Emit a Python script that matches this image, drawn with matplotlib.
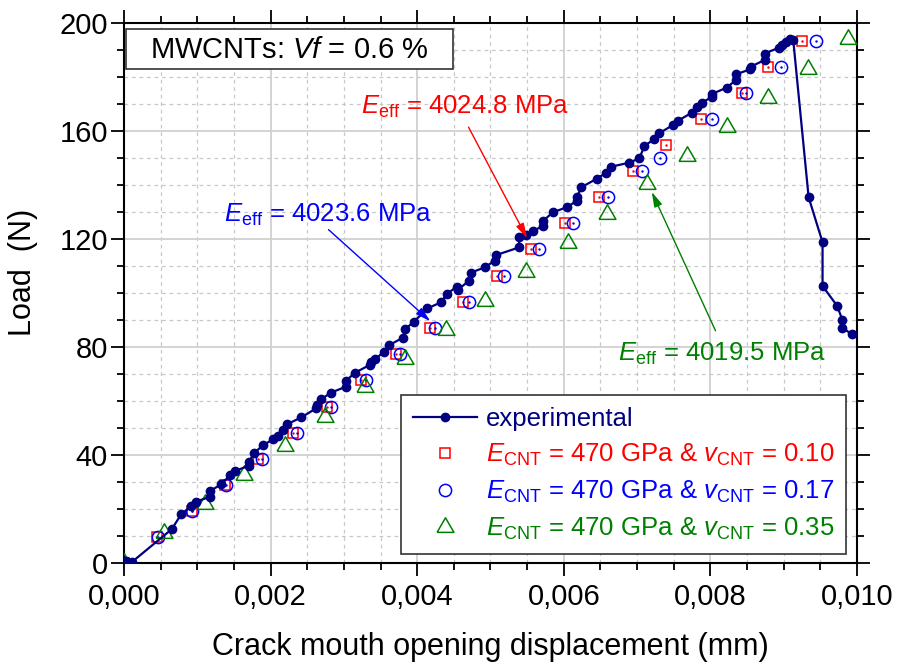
import matplotlib
matplotlib.use("Agg")
import matplotlib.pyplot as plt
from matplotlib.ticker import MultipleLocator, FuncFormatter
from matplotlib.patches import Rectangle
from matplotlib.lines import Line2D

plt.rcParams['font.family'] = ['Liberation Sans', 'DejaVu Sans']
plt.rcParams['mathtext.fontset'] = 'custom'
plt.rcParams['mathtext.rm'] = 'Liberation Sans'
plt.rcParams['mathtext.it'] = 'Liberation Sans:italic'
plt.rcParams['mathtext.bf'] = 'Liberation Sans:bold'

# ---------------- data ----------------
exp_x = [0.0, 0.00003, 0.00011, 0.00065, 0.00078, 0.00092, 0.00098, 0.00118, 0.00118,
         0.00133, 0.00145, 0.00151, 0.00170, 0.00171, 0.00177, 0.00190, 0.00203, 0.00210,
         0.00217, 0.00223, 0.00242, 0.00262, 0.00263, 0.00269, 0.00282, 0.00303, 0.00303,
         0.00315, 0.00335, 0.00337, 0.00342, 0.00355, 0.00362, 0.00381, 0.00383, 0.00395,
         0.00414, 0.00433, 0.00440, 0.00454, 0.00455, 0.00471, 0.00473, 0.00492, 0.00506,
         0.00508, 0.00539, 0.00539, 0.00549, 0.00558, 0.00572, 0.00572, 0.00585, 0.00604,
         0.00618, 0.00618, 0.00624, 0.00645, 0.00658, 0.00664, 0.00689, 0.00703, 0.00710,
         0.00723, 0.00730, 0.00749, 0.00756, 0.00775, 0.00782, 0.00788, 0.00802, 0.00802,
         0.00822, 0.00835, 0.00835, 0.00854, 0.00855, 0.00874, 0.00874, 0.00894, 0.00897,
         0.00903, 0.00908, 0.00913, 0.00934, 0.00953, 0.00953, 0.00973, 0.00980, 0.00980,
         0.00993]
exp_y = [0.0, 0.8, 0.3, 12.4, 17.9, 21.0, 22.6, 24.5, 26.7,
         29.1, 32.5, 34.0, 35.9, 37.5, 40.6, 43.6, 45.7, 47.1,
         49.2, 51.4, 53.9, 57.2, 58.5, 60.6, 63.0, 65.3, 67.5,
         70.4, 73.3, 74.5, 75.4, 78.2, 80.7, 83.5, 86.5, 89.2,
         94.3, 96.6, 99.6, 102.3, 101.1, 104.6, 107.5, 109.5, 112.0,
         114.1, 116.9, 120.7, 121.5, 123.1, 124.8, 126.8, 129.9, 131.8,
         134.2, 135.7, 139.2, 142.4, 144.6, 146.8, 148.3, 149.9, 154.5,
         157.0, 159.2, 162.3, 163.9, 166.9, 168.9, 170.6, 172.6, 173.8,
         176.1, 179.0, 181.1, 182.9, 183.9, 186.4, 188.8, 191.0, 192.0,
         193.0, 194.1, 193.8, 135.5, 118.8, 102.6, 95.2, 90.0, 87.1,
         84.7]

sq_x = [0.0, 0.000455, 0.000923, 0.00138, 0.00183, 0.00231, 0.00277, 0.00324, 0.00371,
        0.00417, 0.00463, 0.00509, 0.00555, 0.00602, 0.00648, 0.00695, 0.00740, 0.00787,
        0.00843, 0.00879, 0.00925]
sq_y = [0.0, 9.6, 19.2, 28.8, 38.4, 48.2, 57.8, 67.7, 77.4,
        86.9, 96.5, 106.4, 116.2, 125.8, 135.5, 145.2, 154.9, 164.6,
        174.2, 183.9, 193.6]

ci_x = [0.0, 0.00046, 0.00093, 0.00139, 0.00188, 0.00236, 0.00282, 0.00330, 0.00376,
        0.00424, 0.00471, 0.00518, 0.00566, 0.00613, 0.00660, 0.00707, 0.00731, 0.00802,
        0.00848, 0.00896, 0.00944]
ci_y = [0.0, 9.6, 19.2, 28.8, 38.4, 48.2, 57.8, 67.7, 77.4,
        86.9, 96.5, 106.4, 116.2, 125.8, 135.5, 145.2, 150.0, 164.6,
        174.2, 183.9, 193.6]

tr_x = [0.0, 0.000546, 0.00110, 0.00164, 0.00220, 0.00274, 0.00329, 0.00384, 0.00439,
        0.00493, 0.00549, 0.00606, 0.00659, 0.00714, 0.00768, 0.00823, 0.00878, 0.00933,
        0.00988]
tr_y = [0.0, 10.9, 21.8, 32.5, 43.3, 54.1, 65.0, 75.5, 86.3,
        97.1, 107.7, 118.4, 129.3, 140.3, 150.9, 161.7, 172.4, 183.1,
        194.1]

labels = ["experimental",
          r"$E_{\mathrm{CNT}}$ = 470 GPa & $v_{\mathrm{CNT}}$ = 0.10",
          r"$E_{\mathrm{CNT}}$ = 470 GPa & $v_{\mathrm{CNT}}$ = 0.17",
          r"$E_{\mathrm{CNT}}$ = 470 GPa & $v_{\mathrm{CNT}}$ = 0.35"]
ann_texts = [r"$E_{\mathrm{eff}}$ = 4024.8 MPa",
             r"$E_{\mathrm{eff}}$ = 4023.6 MPa",
             r"$E_{\mathrm{eff}}$ = 4019.5 MPa"]
ann_points = [(0.00550, 120.3), (0.00418, 89.5), (0.00720, 137.5)]
ann_text_pos = [(0.00470, 161.5), (0.00279, 123.5), (0.00807, 86.0)]
ann_label_pos = [(0.00323, 169.0), (0.00137, 129.0), (0.00674, 77.5)]

NAVY = '#000080'
RED = '#FF0000'
BLUE = '#0000FF'
GREEN = '#008000'

# equilateral open triangle marker (centred on centroid)
TRI = [(-1.0, -0.577), (1.0, -0.577), (0.0, 1.155), (-1.0, -0.577)]

# ---------------- figure ----------------
fig = plt.figure(figsize=(9.01, 6.68), dpi=100)
ax = fig.add_axes([124/901, 1-562.7/668, 733/901, 539.4/668])

ax.set_xlim(0, 0.010)
ax.set_ylim(0, 200)

ax.xaxis.set_major_locator(MultipleLocator(0.002))
ax.xaxis.set_minor_locator(MultipleLocator(0.0005))
ax.yaxis.set_major_locator(MultipleLocator(40))
ax.yaxis.set_minor_locator(MultipleLocator(10))
ax.xaxis.set_major_formatter(FuncFormatter(lambda v, p: f"{v:.3f}".replace('.', ',')))

ax.grid(which='major', color='#d0d0d0', lw=1.3, ls='-', zorder=0)
ax.grid(which='minor', color='#c8c8c8', lw=0.9, ls=(0, (3, 3)), zorder=0)
ax.set_axisbelow(True)

ax.tick_params(which='both', direction='out', top=True, right=True,
               labeltop=False, labelright=False, width=1.3, labelsize=21)
ax.tick_params(which='major', length=9.5)
ax.tick_params(which='minor', length=5)
ax.tick_params(axis='x', pad=5)
ax.tick_params(axis='y', pad=2)
for s in ax.spines.values():
    s.set_linewidth(1.5)

ax.plot(exp_x, exp_y, '-', color=NAVY, lw=1.6, marker='o', ms=6,
        mec=NAVY, mfc=NAVY, zorder=4)
ax.plot(sq_x, sq_y, 's', ms=7.5, mfc='none', mec=RED, mew=1.1, zorder=3)
ax.plot(sq_x, sq_y, '.', ms=1.5, color=RED, zorder=3)
ax.plot(ci_x, ci_y, 'o', ms=8.8, mfc='none', mec=BLUE, mew=1.1, zorder=3)
ax.plot(ci_x, ci_y, '.', ms=1.5, color=BLUE, zorder=3)
ax.plot(tr_x, tr_y, ls='none', marker=TRI, ms=14, mfc='none', mec=GREEN, mew=1.1, zorder=3)

ax.set_xlabel("Crack mouth opening displacement (mm)", fontsize=22)
ax.set_ylabel("Load  (N)", fontsize=22)
ax.xaxis.set_label_coords(0.5, -0.128)
ax.yaxis.set_label_coords(-0.118, 0.538)

# annotations
for pt, tp, col in zip(ann_points, ann_text_pos, [RED, BLUE, GREEN]):
    ax.annotate("", xy=pt, xytext=tp,
                arrowprops=dict(arrowstyle='-|>,head_length=0.9,head_width=0.25',
                                color=col, lw=1.0, shrinkA=0, shrinkB=0), zorder=6)
for txt, lp, col in zip(ann_texts, ann_label_pos, [RED, BLUE, GREEN]):
    ax.text(lp[0], lp[1], txt, color=col, fontsize=18.5, ha='left', va='center')

# title box
ax.add_patch(Rectangle((0.0027, 0.9148), 0.4461, 0.0741, transform=ax.transAxes,
                       fill=True, facecolor='white', edgecolor='#333333', lw=1.2, zorder=7))
ax.text(0.2258, 0.951, r"MWCNTs: $\mathit{Vf}$ = 0.6 %", transform=ax.transAxes,
        ha='center', va='center', fontsize=21, zorder=8)

# legend
handles = [Line2D([], [], color=NAVY, lw=1.6, marker='o', ms=6),
           Line2D([], [], ls='none', marker='s', ms=7.5, mfc='none', mec=RED, mew=1.1),
           Line2D([], [], ls='none', marker='o', ms=8.8, mfc='none', mec=BLUE, mew=1.1),
           Line2D([], [], ls='none', marker=TRI, ms=14, mfc='none', mec=GREEN, mew=1.1)]
leg = ax.legend(handles, labels, loc='lower right', bbox_to_anchor=(0.985, 0.017),
                borderaxespad=0, fontsize=18.5, frameon=True, fancybox=False,
                edgecolor='#333333', framealpha=1, handlelength=2.5,
                handletextpad=0.35, labelspacing=0.42, borderpad=0.45,
                labelcolor=[NAVY, RED, BLUE, GREEN])
leg.get_frame().set_linewidth(1.2)
leg.set_zorder(9)

fig.savefig("out.png", dpi=100)
